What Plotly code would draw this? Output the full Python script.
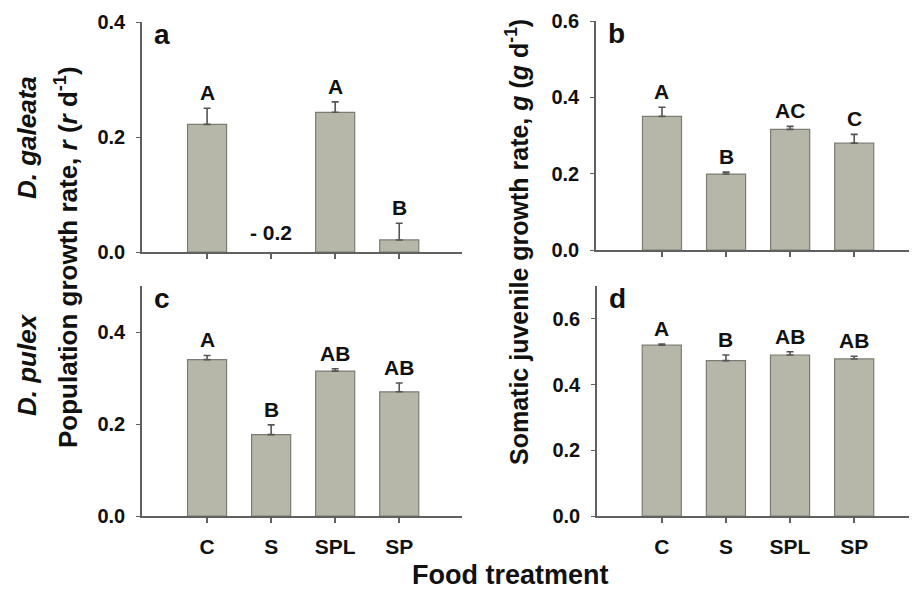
import plotly.graph_objects as go

# page body has an 8px default margin; size the figure so it fits the window
OFF = 8
W, H = 917 - OFF, 590 - OFF

categories = ["C", "S", "SPL", "SP"]

a_vals = [0.222, -0.2, 0.243, 0.021]
a_err = [0.028, 0.0, 0.018, 0.029]
a_letters = ["A", "", "A", "B"]
a_note = "- 0.2"

b_vals = [0.350, 0.199, 0.316, 0.280]
b_err = [0.024, 0.005, 0.008, 0.023]
b_letters = ["A", "B", "AC", "C"]

c_vals = [0.340, 0.177, 0.315, 0.270]
c_err = [0.009, 0.021, 0.005, 0.019]
c_letters = ["A", "B", "AB", "AB"]

d_vals = [0.520, 0.473, 0.490, 0.478]
d_err = [0.003, 0.017, 0.010, 0.008]
d_letters = ["A", "B", "AB", "AB"]

FONT = "Liberation Sans, Arial, sans-serif"
BAR_FILL = "#b6b6a9"
BAR_LINE = "#7c7c74"
AXIS = "#606060"
TXT = "#111111"


def px_x(p):
    return (p - OFF) / W


def px_y(p):
    return 1 - (p - OFF) / H


panels = [
    ("a", a_vals, a_err, a_letters, (142, 462), (22, 252), [0, 0.4], [0, 0.2, 0.4], [-1.016, 3.98], False),
    ("b", b_vals, b_err, b_letters, (596, 917), (21, 250), [0, 0.6], [0, 0.2, 0.4, 0.6], [-1.03, 3.98], False),
    ("c", c_vals, c_err, c_letters, (142, 462), (286, 516), [0, 0.5], [0, 0.2, 0.4], [-1.016, 3.98], True),
    ("d", d_vals, d_err, d_letters, (597, 917), (286, 516), [0, 0.7], [0, 0.2, 0.4, 0.6], [-1.01, 3.98], True),
]

fig = go.Figure()
annotations = []
layout = {}

for i, (key, vals, err, letters, xd, yd, yr, yt, xr, showx) in enumerate(panels):
    n = "" if i == 0 else str(i + 1)
    xa, ya = "x" + n, "y" + n
    lw = [0 if v < yr[0] else 1.2 for v in vals]
    fig.add_trace(go.Bar(
        x=categories, y=vals, width=0.61,
        marker=dict(color=BAR_FILL, line=dict(color=BAR_LINE, width=lw)),
        error_y=dict(type="data", symmetric=False, array=err,
                     arrayminus=[0] * len(err), color="#555555",
                     thickness=1.6, width=3.5),
        xaxis=xa, yaxis=ya, showlegend=False, hoverinfo="skip",
    ))
    layout["xaxis" + n] = dict(
        domain=[px_x(xd[0]), min(1.0, px_x(xd[1]))], anchor=ya, range=xr,
        type="category", showline=True, linecolor=AXIS, linewidth=1.5,
        ticks="outside", ticklen=5, tickwidth=1.5, tickcolor=AXIS,
        showticklabels=showx, showgrid=False, zeroline=False,
        automargin=False,
        tickfont=dict(family=FONT, size=21, color=TXT, weight="bold"),
        ticklabelstandoff=6,
    )
    layout["yaxis" + n] = dict(
        domain=[px_y(yd[1]), px_y(yd[0])], anchor=xa, range=yr,
        tickvals=yt, tickformat=".1f", showline=True, linecolor=AXIS,
        linewidth=1.5, ticks="outside", ticklen=4, tickwidth=1.2,
        tickcolor=AXIS, showgrid=False, zeroline=False, automargin=False,
        tickfont=dict(family=FONT, size=20, color=TXT, weight="bold"),
        ticklabelstandoff=7,
    )
    for cat, v, e, lt in zip(categories, vals, err, letters):
        if lt:
            annotations.append(dict(
                x=cat, y=v + e, xref=xa, yref=ya, text="<b>%s</b>" % lt,
                showarrow=False, yanchor="bottom", yshift=2,
                font=dict(family=FONT, size=21, color=TXT),
            ))
    annotations.append(dict(
        x=0.03, y=1.02, xref=xa + " domain", yref=ya + " domain",
        text="<b>%s</b>" % key, showarrow=False, xanchor="left", yanchor="top",
        font=dict(family=FONT, size=28, color=TXT),
    ))

annotations.append(dict(
    x=categories[1], y=0, xref="x", yref="y", text="<b>%s</b>" % a_note,
    showarrow=False, yanchor="bottom", yshift=6,
    font=dict(family=FONT, size=21, color=TXT),
))

annotations += [
    dict(x=px_x(66), y=px_y(257), xref="paper", yref="paper", textangle=-90,
         xanchor="center", yanchor="middle",
         text="<b>Population growth rate, <i>r</i> (<i>r</i> d<sup>-1</sup>)</b>",
         showarrow=False, font=dict(family=FONT, size=26, color=TXT)),
    dict(x=px_x(27), y=px_y(138), xref="paper", yref="paper", textangle=-90,
         xanchor="center", yanchor="middle",
         text="<b><i>D. galeata</i></b>", showarrow=False,
         font=dict(family=FONT, size=26, color=TXT)),
    dict(x=px_x(27), y=px_y(365), xref="paper", yref="paper", textangle=-90,
         xanchor="center", yanchor="middle",
         text="<b><i>D. pulex</i></b>", showarrow=False,
         font=dict(family=FONT, size=26, color=TXT)),
    dict(x=px_x(517), y=px_y(242), xref="paper", yref="paper", textangle=-90,
         xanchor="center", yanchor="middle",
         text="<b>Somatic juvenile growth rate, <i>g</i> (<i>g</i> d<sup>-1</sup>)</b>",
         showarrow=False, font=dict(family=FONT, size=25, color=TXT)),
    dict(x=px_x(510), y=px_y(575), xref="paper", yref="paper",
         xanchor="center", yanchor="middle",
         text="<b>Food treatment</b>", showarrow=False,
         font=dict(family=FONT, size=27, color=TXT)),
]

fig.update_layout(
    width=W, height=H,
    margin=dict(l=0, r=0, t=0, b=0, autoexpand=False),
    paper_bgcolor="white", plot_bgcolor="white",
    annotations=annotations, **layout,
)

fig.write_html("out.html")
